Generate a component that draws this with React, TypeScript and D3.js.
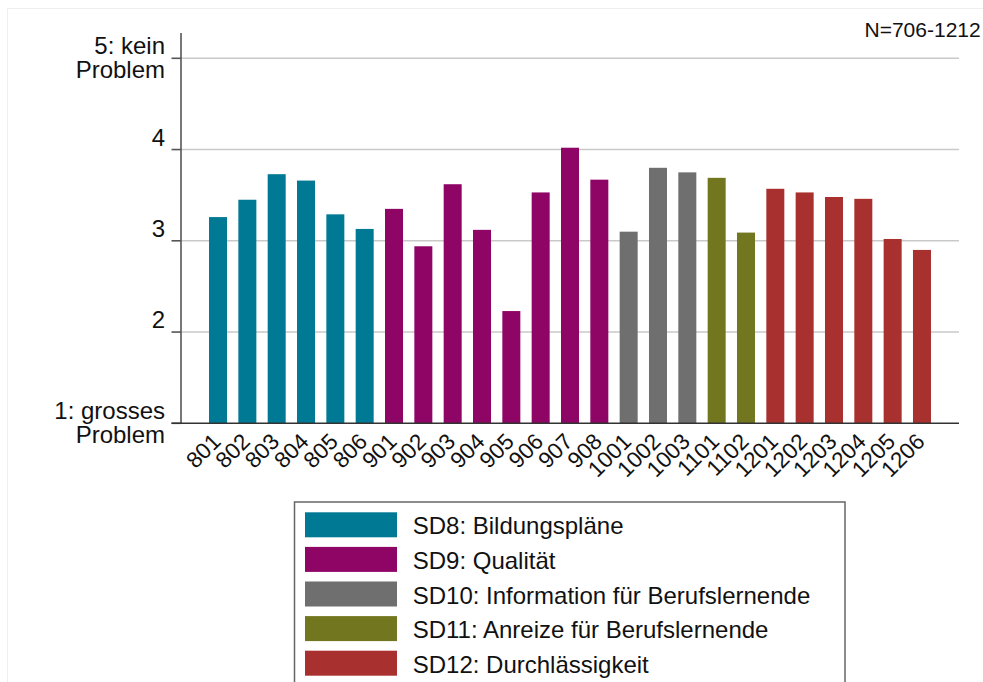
import React from "react";
import * as d3 from "d3";

const categories = ["801","802","803","804","805","806","901","902","903","904","905","906","907","908","1001","1002","1003","1101","1102","1201","1202","1203","1204","1205","1206"];
const values = [3.26,3.45,3.73,3.66,3.29,3.13,3.35,2.94,3.62,3.12,2.23,3.53,4.02,3.67,3.10,3.80,3.75,3.69,3.09,3.57,3.53,3.48,3.46,3.02,2.90];
const groupOf = ["SD8","SD8","SD8","SD8","SD8","SD8","SD9","SD9","SD9","SD9","SD9","SD9","SD9","SD9","SD10","SD10","SD10","SD11","SD11","SD12","SD12","SD12","SD12","SD12","SD12"];
const groups = ["SD8","SD9","SD10","SD11","SD12"];
const groupLabels = ["SD8: Bildungspläne","SD9: Qualität","SD10: Information für Berufslernende","SD11: Anreize für Berufslernende","SD12: Durchlässigkeit"];
const groupColors = ["#007A94","#8E0566","#6F6F6F","#72761F","#A8312F"];
const yTicks = [1,2,3,4,5];
const yTickLabels = [["1: grosses","Problem"],["2"],["3"],["4"],["5: kein","Problem"]];
const noteText = "N=706-1212";

const FONT = "'Liberation Sans', Arial, sans-serif";

export default function App() {
  const x = d3.scaleBand<string>().domain(categories).range([181, 959]).paddingInner(0.386).paddingOuter(0.955);
  const y = d3.scaleLinear().domain([1, 5]).range([423.3, 58.3]);
  const color = d3.scaleOrdinal<string, string>().domain(groups).range(groupColors);

  return (
    <svg width={983} height={682} style={{ position: "absolute", left: 0, top: 0, background: "#fff" }} fontFamily={FONT}>
      <rect x={7.5} y={8.5} width={990} height={700} fill="none" stroke="#eeeeee" strokeWidth={1} />
      {/* gridlines */}
      {yTicks.filter((t) => t > 1).map((t) => (
        <line key={"g" + t} x1={181} x2={959} y1={y(t)} y2={y(t)} stroke="#c9c9c9" strokeWidth={1.6} />
      ))}
      {/* bars */}
      {categories.map((c, i) => (
        <rect key={c} x={x(c)} y={y(values[i])} width={x.bandwidth()} height={y(1) - y(values[i])} fill={color(groupOf[i])} />
      ))}
      {/* y axis */}
      <line x1={181} x2={181} y1={33} y2={y(1)} stroke="#555" strokeWidth={1.6} />
      {yTicks.map((t, i) => (
        <g key={"t" + t}>
          <line x1={171.5} x2={181} y1={y(t)} y2={y(t)} stroke="#555" strokeWidth={1.6} />
          <text x={165} y={y(t) - 4} textAnchor="end" fontSize={24} fill="#111">
            {yTickLabels[i].map((l, j) => (
              <tspan key={j} x={165} dy={j === 0 ? 0 : 24}>{l}</tspan>
            ))}
          </text>
        </g>
      ))}
      {/* x axis */}
      <line x1={171.5} x2={959} y1={y(1)} y2={y(1)} stroke="#333" strokeWidth={1.6} />
      {categories.map((c) => {
        const cx = (x(c) as number) + x.bandwidth() / 2 + 4;
        return (
          <text key={"l" + c} transform={`translate(${cx},443) rotate(-45)`} textAnchor="end" fontSize={22.5} fill="#111">
            {c}
          </text>
        );
      })}
      {/* note */}
      <text x={980.7} y={37.3} textAnchor="end" fontSize={21} fill="#111">{noteText}</text>
      {/* legend */}
      <rect x={294.5} y={502} width={550.5} height={200} fill="#fff" stroke="#666" strokeWidth={1.5} />
      {groups.map((g, i) => (
        <g key={"lg" + g}>
          <rect x={305} y={512.3 + i * 34.6} width={92} height={25} fill={color(g)} />
          <text x={412.7} y={534.3 + i * 34.6} fontSize={24} fill="#111">{groupLabels[i]}</text>
        </g>
      ))}
    </svg>
  );
}
